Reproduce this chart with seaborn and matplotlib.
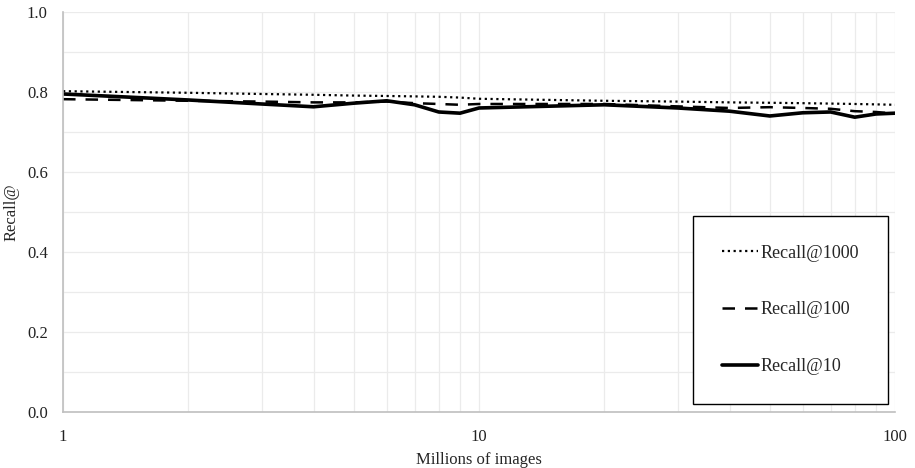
import numpy as np
import pandas as pd
import matplotlib
matplotlib.use("Agg")
import matplotlib.pyplot as plt
import seaborn as sns
from matplotlib.ticker import FixedLocator, NullFormatter

millions = [1, 2, 3, 4, 5, 6, 7, 8, 9, 10, 20, 30, 40, 50, 60, 70, 80, 90, 100]
recall_1000 = [0.802, 0.798, 0.795, 0.793, 0.791, 0.790, 0.789, 0.788, 0.786, 0.783,
               0.778, 0.776, 0.774, 0.773, 0.772, 0.771, 0.770, 0.769, 0.768]
recall_100 = [0.782, 0.778, 0.776, 0.774, 0.774, 0.776, 0.772, 0.770, 0.768, 0.770,
              0.770, 0.764, 0.760, 0.762, 0.760, 0.758, 0.752, 0.750, 0.746]
recall_10 = [0.795, 0.780, 0.770, 0.763, 0.772, 0.778, 0.768, 0.750, 0.747, 0.760,
             0.768, 0.760, 0.752, 0.740, 0.748, 0.750, 0.737, 0.745, 0.747]
series_names = ["Recall@1000", "Recall@100", "Recall@10"]
y_ticks = [0.0, 0.2, 0.4, 0.6, 0.8, 1.0]
x_ticks = [1, 10, 100]

sns.set_style("white")
plt.rcParams["font.family"] = ["Liberation Serif", "DejaVu Serif"]

df = pd.DataFrame({
    "x": millions * 3,
    "y": recall_1000 + recall_100 + recall_10,
    "series": [series_names[0]] * len(millions) + [series_names[1]] * len(millions)
              + [series_names[2]] * len(millions),
})

fig = plt.figure(figsize=(9.15, 4.68), dpi=100)
ax = fig.add_axes([0.0689, 0.1197, 0.9093, 0.8547])

styles = {
    "Recall@1000": dict(ls=(0, (1, 1.6)), lw=1.6),
    "Recall@100": dict(ls=(0, (5, 4)), lw=1.8),
    "Recall@10": dict(ls="-", lw=2.6),
}
for name in series_names:
    sub = df[df["series"] == name]
    sns.lineplot(data=sub, x="x", y="y", ax=ax, color="black", label=name,
                 linestyle=styles[name]["ls"], linewidth=styles[name]["lw"])

ax.set_xscale("log")
ax.set_xlim(1, 100)
ax.set_ylim(0, 1.0)
ax.set_yticks(y_ticks)
ax.set_yticklabels([f"{v:.1f}" for v in y_ticks])
ax.set_xticks(x_ticks)
ax.set_xticklabels([str(v) for v in x_ticks])
minor_x = [m * d for d in (1, 10) for m in range(2, 10)]
ax.xaxis.set_minor_locator(FixedLocator(minor_x))
ax.xaxis.set_minor_formatter(NullFormatter())
ax.yaxis.set_minor_locator(FixedLocator([0.1, 0.3, 0.5, 0.7, 0.9]))
ax.grid(True, which="both", color="#ebebeb", linewidth=0.9)
ax.set_axisbelow(True)

for s in ["top", "right"]:
    ax.spines[s].set_visible(False)
for s in ["left", "bottom"]:
    ax.spines[s].set_color("#bfbfbf")
    ax.spines[s].set_linewidth(1.2)

ax.tick_params(axis="both", which="both", length=0, labelsize=12, colors="#222222")
ax.tick_params(axis="x", pad=12)
ax.tick_params(axis="y", pad=11)
ax.set_xlabel("Millions of images", fontsize=12, labelpad=5)
ax.set_ylabel("Recall@", fontsize=12, labelpad=5)

leg = ax.legend(loc="lower right", bbox_to_anchor=(0.9916, 0.02), frameon=True,
                fancybox=False, edgecolor="black", fontsize=13, labelspacing=2.2,
                borderpad=1.6, handlelength=2.0, handletextpad=0.15,
                borderaxespad=0)
leg.get_frame().set_linewidth(1.0)
leg.get_frame().set_alpha(1)

fig.savefig("out.png", dpi=100)
